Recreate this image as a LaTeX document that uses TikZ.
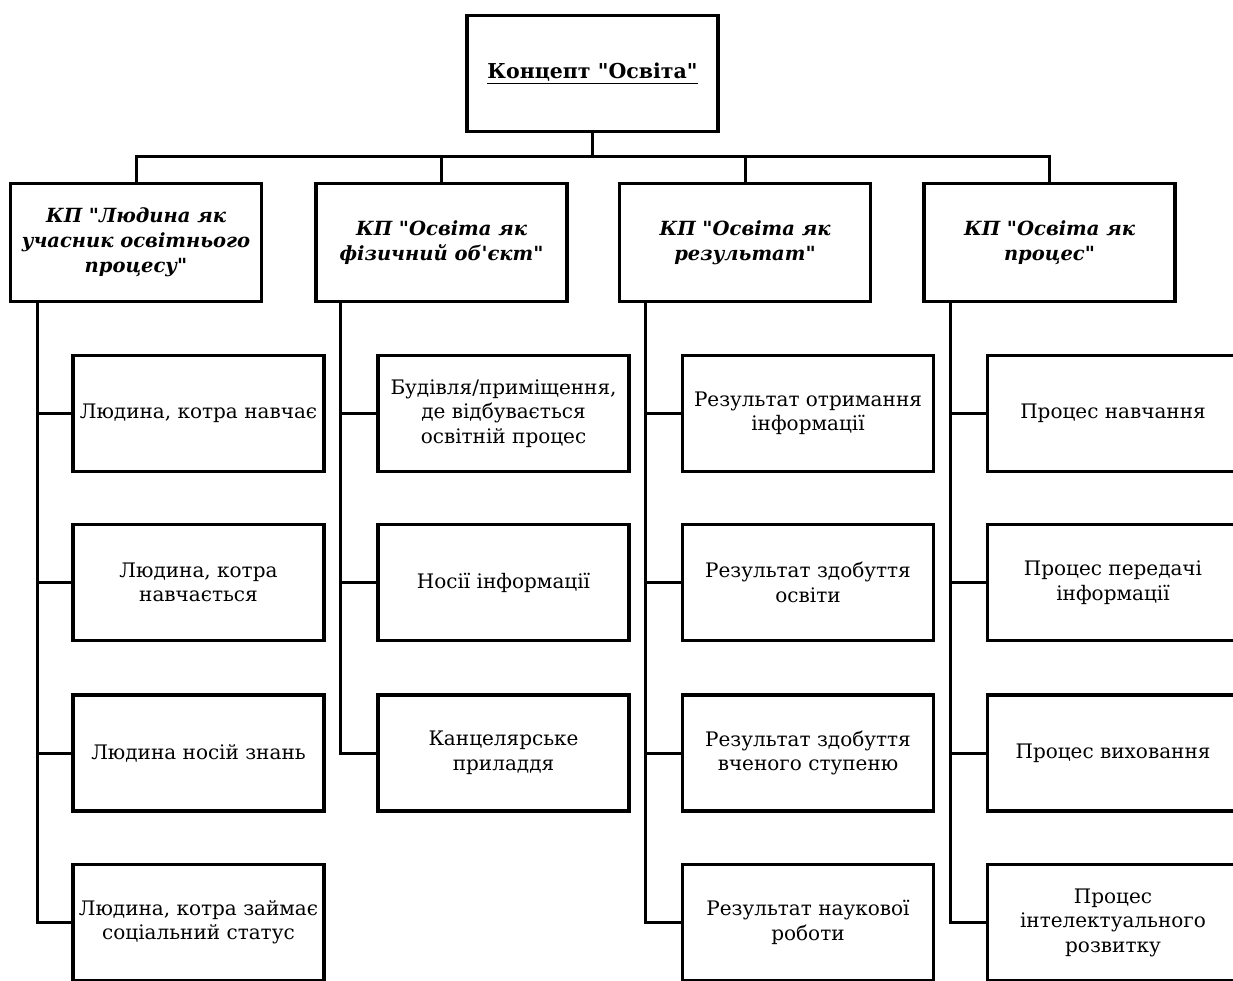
\documentclass[tikz,border=0pt]{standalone}
\usepackage{fontspec}
\setmainfont[Ligatures=TeXOff]{DejaVu Serif}
\usetikzlibrary{positioning,calc}

\begin{document}
\begin{tikzpicture}[
    x=1pt, y=-1pt,
    box/.style={draw,line width=3.5pt,minimum width=251pt,minimum height=116pt,
                inner sep=1pt,align=center,font=\fontsize{20}{24.5}\selectfont},
    concept/.style={box,font=\fontsize{20.5}{24.5}\selectfont\bfseries},
    kp/.style={box,minimum height=118pt,font=\fontsize{19.5}{25}\selectfont\bfseries\itshape},
    link/.style={line width=3pt},
  ]

  % page frame; the last row and the right column run off the page
  \clip (0,0) rectangle (1233,981);

  % --- concept (top) ---
  \node[concept] (top) at (592.5,73.5) {\underline{Концепт "Освіта"}};
  \coordinate (bus) at (592.5,157);

  % --- four conceptual fields ---
  \node[kp] (kp1) at (136,242.5)    {КП "Людина як\\учасник освітнього\\процесу"};
  \node[kp] (kp2) at (441.5,242.5)  {КП "Освіта як\\фізичний об'єкт"};
  \node[kp] (kp3) at (745,242.5)    {КП "Освіта як\\результат"};
  \node[kp] (kp4) at (1049.5,242.5) {КП "Освіта як\\процес"};

  % --- spines under each field ---
  \coordinate (sp1) at (37,303);
  \coordinate (sp2) at (340,303);
  \coordinate (sp3) at (645,303);
  \coordinate (sp4) at (950,303);

  % --- field 1: person ---
  \node[box] (c11) at (198.5,413.5) {Людина, котра навчає};
  \node[box] (c12) at (198.5,582.5) {Людина, котра\\навчається};
  \node[box] (c13) at (198.5,753)   {Людина носій знань};
  \node[box] (c14) at (198.5,922.5) {Людина, котра займає\\соціальний статус};

  % --- field 2: physical object ---
  \node[box] (c21) at (503.5,413.5) {Будівля/приміщення,\\де відбувається\\освітній процес};
  \node[box] (c22) at (503.5,582.5) {Носії інформації};
  \node[box] (c23) at (503.5,753)   {Канцелярське\\приладдя};

  % --- field 3: result ---
  \node[box] (c31) at (808,413.5) {Результат отримання\\інформації};
  \node[box] (c32) at (808,582.5) {Результат здобуття\\освіти};
  \node[box] (c33) at (808,753)   {Результат здобуття\\вченого ступеню};
  \node[box] (c34) at (808,922.5) {Результат наукової\\роботи};

  % --- field 4: process ---
  \node[box] (c41) at (1113,413.5) {Процес навчання};
  \node[box] (c42) at (1113,582.5) {Процес передачі\\інформації};
  \node[box] (c43) at (1113,753)   {Процес виховання};
  \node[box] (c44) at (1113,922.5) {Процес\\інтелектуального\\розвитку};

  % --- concept to fields ---
  \foreach \f in {kp1,kp2,kp3,kp4} { \draw[link] (top.south) -- (bus) -| (\f.north); }

  % --- fields to their items ---
  \foreach \c in {c11,c12,c13,c14} { \draw[link] (sp1) |- (\c.west); }
  \foreach \c in {c21,c22,c23}     { \draw[link] (sp2) |- (\c.west); }
  \foreach \c in {c31,c32,c33,c34} { \draw[link] (sp3) |- (\c.west); }
  \foreach \c in {c41,c42,c43,c44} { \draw[link] (sp4) |- (\c.west); }

\end{tikzpicture}
\end{document}
